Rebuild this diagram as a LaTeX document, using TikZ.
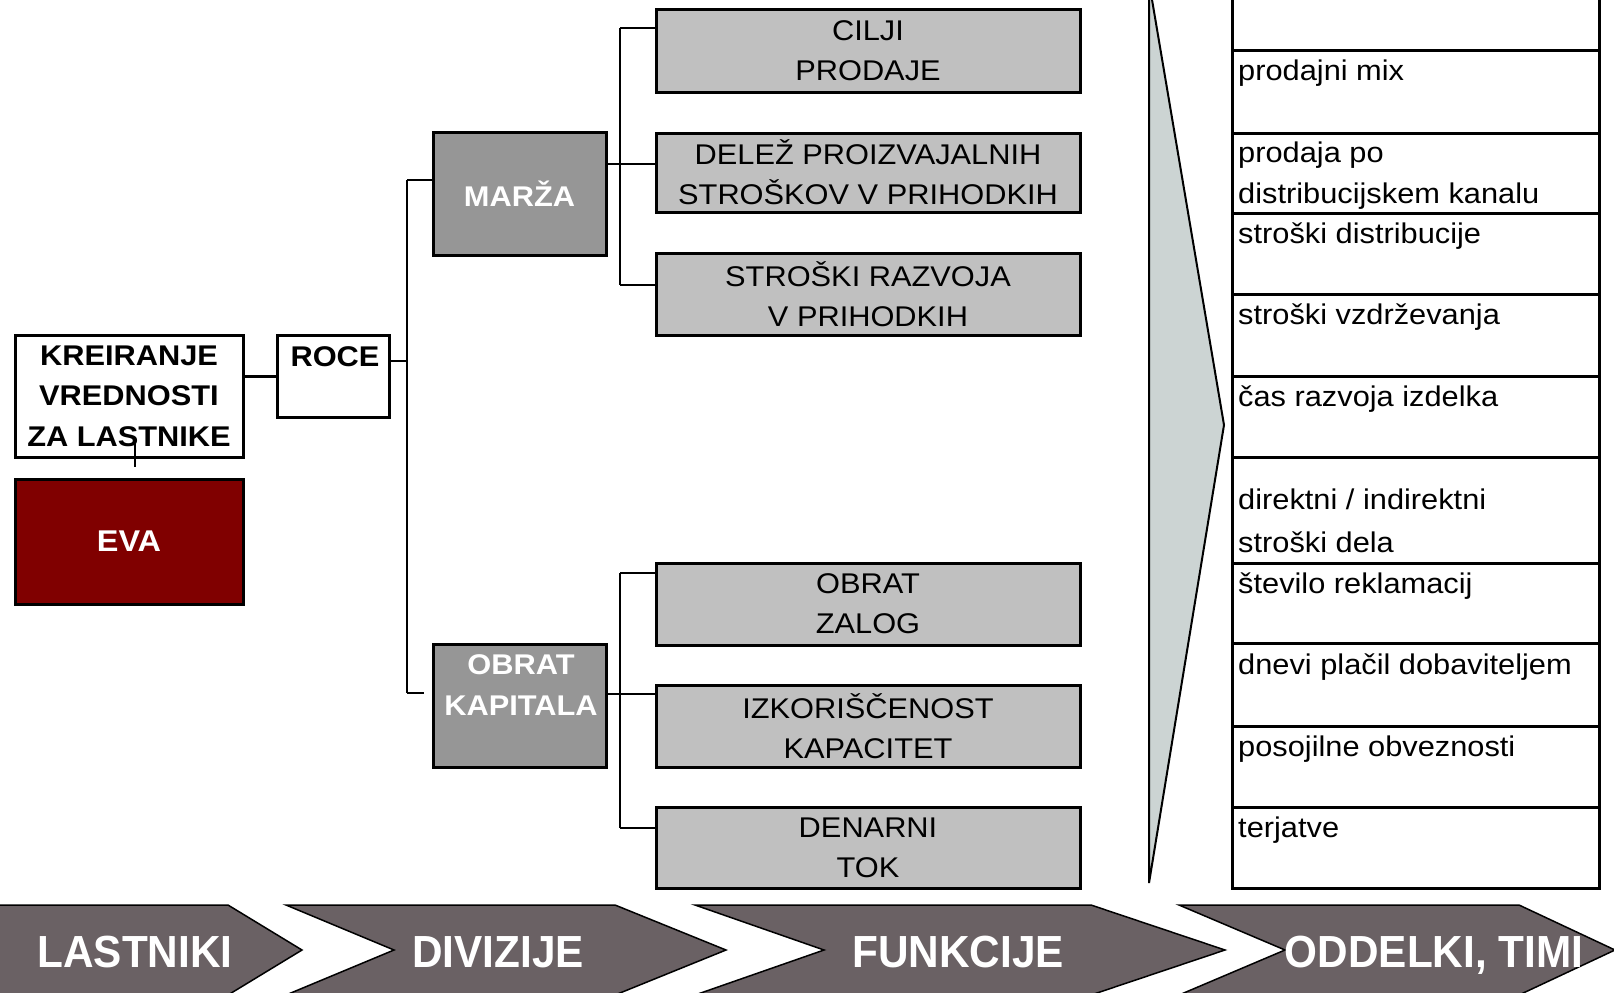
\documentclass[tikz,border=0pt]{standalone}
\usepackage{fontspec}
\setmainfont{Liberation Sans}
\newfontfamily\wfont{Liberation Sans}[FakeStretch=1.08]
\newfontfamily\nfont{Liberation Sans}[FakeStretch=0.94]
\definecolor{lgrey}{HTML}{C0C0C0}
\definecolor{dgrey}{HTML}{969696}
\definecolor{evared}{HTML}{800000}
\definecolor{chevcol}{HTML}{6A6164}
\definecolor{tricol}{HTML}{CCD4D3}
\begin{document}
\begin{tikzpicture}[x=1pt,y=-1pt,
  box/.style={draw=black, line width=3pt, inner sep=0pt, outer sep=0pt, align=center},
  lbox/.style={box, fill=lgrey, minimum width=424, font=\wfont\fontsize{28.5}{40}\selectfont},
  dbox/.style={box, fill=dgrey, minimum width=173, minimum height=123, text=white, font=\wfont\bfseries\fontsize{28.5}{41}\selectfont},
  cell/.style={draw=black, line width=3pt, inner sep=0pt, outer sep=0pt, minimum width=367},
  ctext/.style={anchor=base west, inner sep=0pt, font=\wfont\fontsize{28.5}{42}\selectfont},
  btext/.style={anchor=base, inner sep=0pt, font=\wfont\bfseries\fontsize{28.5}{41}\selectfont},
  conn/.style={draw=black, line width=2pt},
  chev/.style={fill=chevcol, draw=black, line width=1.5pt, line join=miter},
  chtext/.style={anchor=base, inner sep=0pt, text=white, font=\nfont\bfseries\fontsize{45}{50}\selectfont}
]
\path[use as bounding box] (0,0) rectangle (1614,993);
\clip (0,0) rectangle (1614,993);

% left part
\node[box, minimum width=228, minimum height=122, font=\wfont\bfseries\fontsize{28.5}{40.5}\selectfont] (kr) at (129,396) {KREIRANJE\\VREDNOSTI\\ZA LASTNIKE};
\node[box, fill=evared, minimum width=228, minimum height=125, text=white, font=\wfont\bfseries\fontsize{30}{35}\selectfont] (eva) at (129,541.5) {EVA};
\node[box, minimum width=112, minimum height=82] (roce) at (333,376) {};
\node[btext] (rocet) at (335,366) {ROCE};

\draw[line width=3pt] (roce.west) -- (roce.west -| kr.east);
\draw[line width=1.2pt] ([xshift=6pt, yshift=16pt]kr.south) -- ([xshift=6pt, yshift=-10pt]kr.south);

% second level
\node[dbox] (marza) at (519.5,193.5) {MAR\v{Z}A};
\node[dbox] (obrat) at (519.5,705.5) {};
\node[btext, text=white] (obratt1) at (521,674) {OBRAT};
\node[btext, text=white] (obratt2) at (521,715) {KAPITALA};

\coordinate (j0) at (407,361);
\coordinate (j1) at (407,180);
\coordinate (j2) at (407,693);
\coordinate (j2e) at (424,693);
\draw[conn] ([yshift=15pt]roce.east) -- (j0);
\draw[conn] (j1) -- (j2);
\draw[conn] (j1) -- (j1 -| marza.west);
\draw[conn] (j2) -- (j2e);

% third level boxes
\node[lbox, minimum height=83] (cilji) at (868,50.5) {CILJI\\PRODAJE};
\node[lbox, minimum height=79] (delez) at (868,172.5) {DELE\v{Z} PROIZVAJALNIH\\STRO\v{S}KOV V PRIHODKIH};
\node[lbox, minimum height=82] (razvoj) at (868,294) {STRO\v{S}KI RAZVOJA\\V PRIHODKIH};
\node[lbox, minimum height=82] (zalog) at (868,604) {\raisebox{-9pt}{OBRAT}\\\raisebox{-9pt}{ZALOG}};
\node[lbox, minimum height=82] (izkor) at (868,726) {IZKORI\v{S}\v{C}ENOST\\KAPACITET};
\node[lbox, minimum height=81] (denar) at (868,847.5) {DENARNI\\TOK};

\coordinate (k1) at (620,28);
\coordinate (k2) at (620,164);
\coordinate (k3) at (620,285);
\draw[conn] (k1) -- (k3);
\draw[conn] (k1) -- (k1 -| cilji.west);
\draw[conn] (k2 -| marza.east) -- (k2 -| delez.west);
\draw[conn] (k3) -- (k3 -| razvoj.west);

\coordinate (l1) at (620,573);
\coordinate (l2) at (620,694);
\coordinate (l3) at (620,828);
\draw[conn] (l1) -- (l3);
\draw[conn] (l1) -- (l1 -| zalog.west);
\draw[conn] (l2 -| obrat.east) -- (l2 -| izkor.west);
\draw[conn] (l3) -- (l3 -| denar.west);

% triangle
\draw[fill=tricol, draw=black, line width=2pt, line join=miter] (1149,-18) -- (1224,425) -- (1149,883) -- cycle;

% right column
\node[cell, minimum height=90] (c1) at (1415.5,5) {};
\node[cell, minimum height=83] (c2) at (1415.5,91.5) {};
\node[cell, minimum height=80] (c3) at (1415.5,173) {};
\node[cell, minimum height=81] (c4) at (1415.5,253.5) {};
\node[cell, minimum height=82] (c5) at (1415.5,335) {};
\node[cell, minimum height=81] (c6) at (1415.5,416.5) {};
\node[cell, minimum height=106] (c7) at (1415.5,510) {};
\node[cell, minimum height=80] (c8) at (1415.5,603) {};
\node[cell, minimum height=83] (c9) at (1415.5,684.5) {};
\node[cell, minimum height=81] (c10) at (1415.5,766.5) {};
\node[cell, minimum height=81] (c11) at (1415.5,847.5) {};

\node[ctext] (t2) at (1238,80) {prodajni mix};
\node[ctext] (t3a) at (1238,162) {prodaja po};
\node[ctext] (t3b) at (1238,203) {distribucijskem kanalu};
\node[ctext] (t4) at (1238,243) {stro\v{s}ki distribucije};
\node[ctext] (t5) at (1238,324) {stro\v{s}ki vzdr\v{z}evanja};
\node[ctext] (t6) at (1238,406) {\v{c}as razvoja izdelka};
\node[ctext] (t7a) at (1238,509) {direktni / indirektni};
\node[ctext] (t7b) at (1238,552) {stro\v{s}ki dela};
\node[ctext] (t8) at (1238,593) {\v{s}tevilo reklamacij};
\node[ctext] (t9) at (1238,674) {dnevi pla\v{c}il dobaviteljem};
\node[ctext] (t10) at (1238,756) {posojilne obveznosti};
\node[ctext] (t11) at (1238,837) {terjatve};

% bottom chevrons
\draw[chev] (-5,905) -- (228,905) -- (302,950) -- (228,995) -- (-5,995) -- cycle;
\draw[chev] (286,905) -- (615,905) -- (726,950) -- (615,995) -- (286,995) -- (394,950) -- cycle;
\draw[chev] (695,905) -- (1091,905) -- (1225,950) -- (1091,995) -- (695,995) -- (824,950) -- cycle;
\draw[chev] (1179,905) -- (1519,905) -- (1615,950) -- (1519,995) -- (1179,995) -- (1285,950) -- cycle;
\node[chtext] (ch1) at (135,967) {LASTNIKI};
\node[chtext] (ch2) at (498,967) {DIVIZIJE};
\node[chtext] (ch3) at (958,967) {FUNKCIJE};
\node[chtext] (ch4) at (1434,967) {ODDELKI, TIMI};
\end{tikzpicture}
\end{document}
